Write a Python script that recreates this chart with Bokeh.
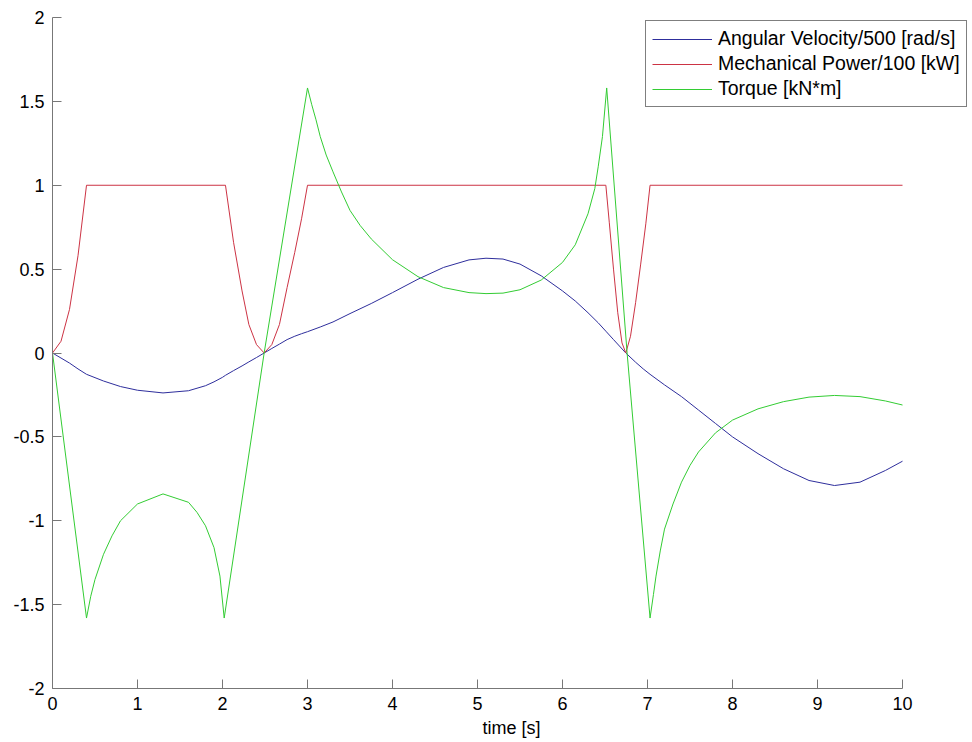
from bokeh.plotting import figure
from bokeh.models import Range1d, Legend, LegendItem, FixedTicker
from bokeh.embed import file_html
from bokeh.resources import INLINE

# ---- data ----
t_speed = [0, 0.1, 0.2, 0.3, 0.4, 0.6, 0.8, 1.0, 1.3, 1.6, 1.8, 1.9, 2.0, 2.035, 2.13, 2.23,
           2.31, 2.4, 2.49, 2.58, 2.67, 2.76, 2.85, 2.93, 3.0, 3.15, 3.3, 3.5, 3.75, 4.0, 4.3,
           4.6, 4.9, 5.1, 5.3, 5.5, 5.75, 6.0, 6.15, 6.3, 6.42, 6.51, 6.6, 6.745, 6.86, 6.95,
           7.03, 7.2, 7.4, 7.6, 7.8, 8.0, 8.3, 8.6, 8.9, 9.2, 9.5, 9.8, 10.0]
speed = [0, -0.03, -0.06, -0.095, -0.127, -0.167, -0.2, -0.222, -0.238, -0.225, -0.195, -0.172,
         -0.145, -0.133, -0.105, -0.077, -0.053, -0.027, 0.0, 0.027, 0.053, 0.08, 0.1, 0.115,
         0.127, 0.155, 0.185, 0.235, 0.295, 0.36, 0.44, 0.51, 0.555, 0.565, 0.56, 0.53, 0.46,
         0.37, 0.31, 0.24, 0.18, 0.13, 0.08, 0.0, -0.055, -0.095, -0.127, -0.19, -0.26, -0.34,
         -0.42, -0.5, -0.6, -0.69, -0.76, -0.79, -0.77, -0.70, -0.645]

t_power = [0, 0.1, 0.2, 0.3, 0.4, 2.035, 2.13, 2.23, 2.31, 2.4, 2.49, 2.58, 2.67, 2.76, 2.85,
           2.93, 3.0, 6.51, 6.55, 6.6, 6.65, 6.7, 6.745, 6.8, 6.86, 6.92, 6.98, 7.03, 10.0]
power = [0, 0.07, 0.26, 0.58, 1.0, 1.0, 0.66, 0.37, 0.17, 0.05, 0.0, 0.05, 0.17, 0.39, 0.6,
         0.8, 1.0, 1.0, 0.78, 0.5, 0.24, 0.06, 0.0, 0.1, 0.3, 0.53, 0.77, 1.0, 1.0]

t_torque = [0, 0.4, 0.45, 0.5, 0.6, 0.7, 0.8, 1.0, 1.3, 1.6, 1.7, 1.8, 1.9, 1.97, 2.02, 2.49,
            3.0, 3.05, 3.1, 3.15, 3.22, 3.3, 3.4, 3.5, 3.62, 3.75, 4.0, 4.3, 4.6, 4.9, 5.1, 5.3,
            5.5, 5.75, 6.0, 6.15, 6.3, 6.38, 6.42, 6.47, 6.52, 6.76, 7.03, 7.07, 7.1, 7.15, 7.2,
            7.3, 7.4, 7.5, 7.6, 7.8, 8.0, 8.3, 8.6, 8.9, 9.2, 9.5, 9.8, 10.0]
torque = [0, -1.58, -1.45, -1.35, -1.2, -1.09, -1.0, -0.9, -0.84, -0.89, -0.95, -1.03, -1.16,
          -1.33, -1.58, 0.0, 1.58, 1.48, 1.39, 1.29, 1.18, 1.08, 0.96, 0.85, 0.76, 0.68, 0.556,
          0.455, 0.39, 0.36, 0.354, 0.357, 0.377, 0.435, 0.54, 0.645, 0.83, 0.98, 1.11, 1.29,
          1.58, 0.0, -1.58, -1.44, -1.33, -1.18, -1.05, -0.9, -0.77, -0.67, -0.59, -0.476,
          -0.4, -0.333, -0.29, -0.263, -0.253, -0.26, -0.286, -0.31]

x_ticks = [0, 1, 2, 3, 4, 5, 6, 7, 8, 9, 10]
y_ticks = [-2, -1.5, -1, -0.5, 0, 0.5, 1, 1.5, 2]
labels = ["Angular Velocity/500 [rad/s]", "Mechanical Power/100 [kW]", "Torque [kN*m]"]
colors = ["#2e2e9c", "#cc3344", "#33cc33"]

FONT = "Liberation Sans"

# frame extends to the right of t=10 so the legend can sit there; the axis stops at 10
p = figure(width=972, height=742, output_backend="svg", toolbar_location=None,
           x_range=Range1d(0, 918 / 85.0), y_range=Range1d(-2, 2),
           min_border_left=52, min_border_right=2, min_border_top=17, min_border_bottom=54)
p.outline_line_color = None
p.background_fill_color = "white"
p.border_fill_color = "white"
p.xgrid.visible = False
p.ygrid.visible = False

r1 = p.line(t_speed, speed, line_color=colors[0], line_width=1)
r2 = p.line(t_power, power, line_color=colors[1], line_width=1)
r3 = p.line(t_torque, torque, line_color=colors[2], line_width=1)

for ax in (p.xaxis[0], p.yaxis[0]):
    ax.axis_line_color = "#777777"
    ax.major_tick_line_color = "#777777"
    ax.major_tick_in = 9
    ax.major_tick_out = 0
    ax.minor_tick_line_color = None
    ax.major_label_text_font = FONT
    ax.major_label_text_font_size = "18px"
    ax.major_label_text_color = "black"
    ax.major_label_standoff = 8

p.xaxis.bounds = (0, 10)
p.xaxis.ticker = FixedTicker(ticks=x_ticks)
p.yaxis.ticker = FixedTicker(ticks=y_ticks)
p.yaxis.major_label_overrides = {-2: "-2", -1.5: "-1.5", -1: "-1", -0.5: "-0.5", 0: "0",
                                 0.5: "0.5", 1: "1", 1.5: "1.5", 2: "2"}
p.xaxis.axis_label = "time [s]"
p.xaxis.axis_label_text_font = FONT
p.xaxis.axis_label_text_font_size = "18px"
p.xaxis.axis_label_text_font_style = "normal"
p.xaxis.axis_label_text_color = "black"
p.xaxis.axis_label_standoff = 5

legend = Legend(items=[LegendItem(label=labels[0], renderers=[r1]),
                       LegendItem(label=labels[1], renderers=[r2]),
                       LegendItem(label=labels[2], renderers=[r3])],
                location=(593, 581))
legend.border_line_color = "black"
legend.border_line_width = 1
legend.background_fill_color = "white"
legend.background_fill_alpha = 1
legend.label_text_font = FONT
legend.label_text_font_size = "19.5px"
legend.label_text_color = "black"
legend.glyph_width = 60
legend.glyph_height = 20
legend.label_height = 20
legend.label_standoff = 6
legend.spacing = 2
legend.padding = 6
legend.margin = 0
p.add_layout(legend, "center")

open("out.html", "w").write(file_html(p, INLINE))
